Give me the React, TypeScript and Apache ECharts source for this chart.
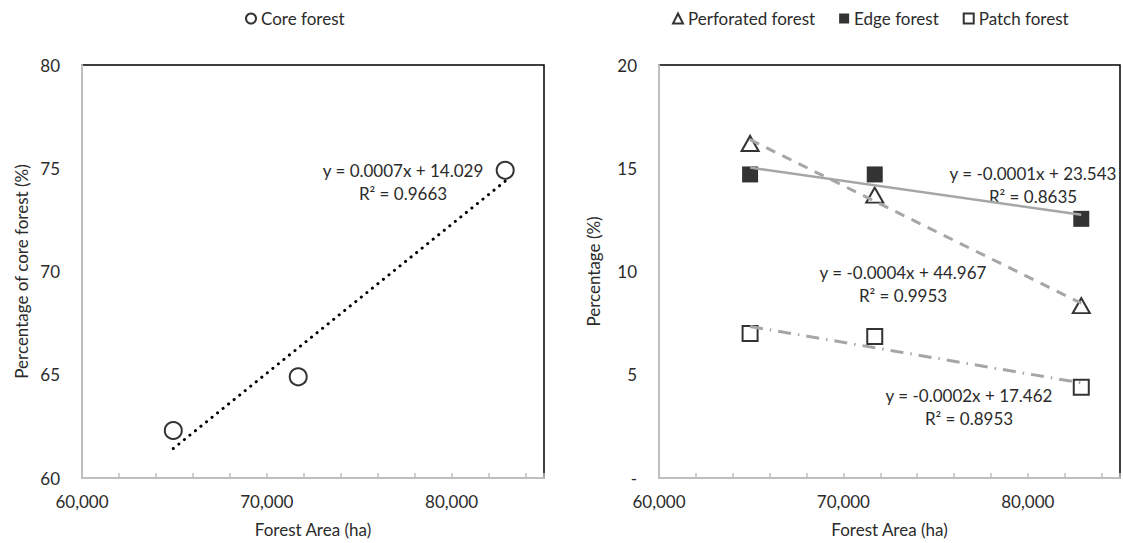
import React, { useEffect, useRef } from 'react';
import * as echarts from 'echarts';

// Forest area (ha) of the three observations
const forestArea = [64940, 71700, 82900];
// Left panel
const coreForest = [62.3, 64.9, 74.9];
// Right panel
const perforatedForest = [16.2, 13.7, 8.35];
const edgeForest = [14.7, 14.7, 12.55];
const patchForest = [7.0, 6.85, 4.4];

const xLabelValues = [60000, 70000, 80000];
const coreEq = ['y = 0.0007x + 14.029', 'R² = 0.9663'];
const edgeEq = ['y = -0.0001x + 23.543', 'R² = 0.8635'];
const perfEq = ['y = -0.0004x + 44.967', 'R² = 0.9953'];
const patchEq = ['y = -0.0002x + 17.462', 'R² = 0.8953'];

const FONT = 'Lato';
const TEXT = '#2b2b2b';
const TREND = '#a6a6a6';
const FS = 17;

function trend(xs: number[], ys: number[]) {
  const n = xs.length;
  const mx = xs.reduce((a, b) => a + b, 0) / n;
  const my = ys.reduce((a, b) => a + b, 0) / n;
  let sxy = 0, sxx = 0;
  for (let i = 0; i < n; i++) {
    sxy += (xs[i] - mx) * (ys[i] - my);
    sxx += (xs[i] - mx) * (xs[i] - mx);
  }
  const a = sxy / sxx;
  const b = my - a * mx;
  const x0 = Math.min(...xs);
  const x1 = Math.max(...xs);
  return [[x0, a * x0 + b], [x1, a * x1 + b]];
}

const pts = (ys: number[]) => forestArea.map((x, i) => [x, ys[i]]);

function xAxis(gridIndex: number) {
  return {
    type: 'value',
    gridIndex,
    min: 60000,
    max: 85000,
    interval: 2000,
    name: 'Forest Area (ha)',
    nameLocation: 'middle',
    nameGap: 43,
    nameTextStyle: { fontFamily: FONT, fontSize: FS, color: TEXT },
    axisLine: { show: true, lineStyle: { color: '#bfbfbf', width: 2 } },
    axisTick: { show: true, inside: true, length: 5, lineStyle: { color: '#bfbfbf', width: 1.5 } },
    axisLabel: {
      interval: 0,
      margin: 15,
      fontFamily: FONT,
      fontSize: FS,
      color: TEXT,
      formatter: (v: number) => (xLabelValues.includes(v) ? v.toLocaleString('en-US') : ''),
    },
    splitLine: { show: false },
  };
}

function yAxis(gridIndex: number, min: number, max: number, name: string, nameGap: number, fmt: (v: number) => string) {
  return {
    type: 'value',
    gridIndex,
    min,
    max,
    interval: 5,
    name,
    nameLocation: 'middle',
    nameGap,
    nameTextStyle: { fontFamily: FONT, fontSize: FS, color: TEXT },
    axisLine: { show: true, lineStyle: { color: '#bfbfbf', width: 2 } },
    axisTick: { show: false },
    axisLabel: { margin: 22, fontFamily: FONT, fontSize: FS, color: TEXT, formatter: fmt },
    splitLine: { show: false },
  };
}

function eqText(lines: string[], cx: number, cy: number) {
  return lines.map((t, i) => ({
    type: 'text',
    x: cx,
    y: cy + i * 23,
    style: {
      text: t,
      fontFamily: FONT,
      fontSize: FS,
      fill: TEXT,
      textAlign: 'center',
      textVerticalAlign: 'middle',
    },
  }));
}

const hollow = { color: '#fff', borderColor: '#000', borderWidth: 2 };

export default function App() {
  const ref = useRef<HTMLDivElement>(null);
  useEffect(() => {
    if (!ref.current) return;
    const chart = echarts.init(ref.current, undefined, { renderer: 'svg' });
    chart.setOption({
      animation: false,
      backgroundColor: '#fff',
      textStyle: { fontFamily: FONT },
      grid: [
        { left: 82, top: 65, width: 462, height: 413.5, show: true, borderColor: '#000', borderWidth: 1.5, backgroundColor: 'transparent' },
        { left: 659, top: 65, width: 462, height: 413.5, show: true, borderColor: '#000', borderWidth: 1.5, backgroundColor: 'transparent' },
      ],
      legend: [
        {
          left: 240,
          top: 5,
          itemWidth: 10,
          itemHeight: 10,
          itemGap: 26,
          textStyle: { fontFamily: FONT, fontSize: FS, color: TEXT },
          data: [{ name: 'Core forest', icon: 'circle', itemStyle: hollow }],
        },
        {
          left: 667,
          top: 5,
          itemWidth: 10,
          itemHeight: 10,
          itemGap: 24,
          textStyle: { fontFamily: FONT, fontSize: FS, color: TEXT },
          data: [
            { name: 'Perforated forest', icon: 'triangle', itemStyle: hollow },
            { name: 'Edge forest', icon: 'rect', itemStyle: { color: '#000', borderWidth: 0 } },
            { name: 'Patch forest', icon: 'rect', itemStyle: hollow },
          ],
        },
      ],
      xAxis: [xAxis(0), xAxis(1)],
      yAxis: [
        yAxis(0, 60, 80, 'Percentage of core forest (%)', 52, (v: number) => String(v)),
        yAxis(1, 0, 20, 'Percentage (%)', 57, (v: number) => (v === 0 ? '-' : String(v))),
      ],
      series: [
        {
          name: 'Core forest', type: 'scatter', xAxisIndex: 0, yAxisIndex: 0,
          symbol: 'circle', symbolSize: 17, itemStyle: hollow, data: pts(coreForest), z: 2,
        },
        {
          name: 'Core trend', type: 'line', xAxisIndex: 0, yAxisIndex: 0, symbol: 'none',
          lineStyle: { color: '#000', width: 3, type: [0.1, 7], cap: 'round' },
          data: trend(forestArea, coreForest), z: 3,
        },
        {
          name: 'Perforated forest', type: 'scatter', xAxisIndex: 1, yAxisIndex: 1,
          symbol: 'triangle', symbolSize: [17, 15], itemStyle: hollow, data: pts(perforatedForest), z: 2,
        },
        {
          name: 'Edge forest', type: 'scatter', xAxisIndex: 1, yAxisIndex: 1,
          symbol: 'rect', symbolSize: 16, itemStyle: { color: '#000' }, data: pts(edgeForest), z: 2,
        },
        {
          name: 'Patch forest', type: 'scatter', xAxisIndex: 1, yAxisIndex: 1,
          symbol: 'rect', symbolSize: 15, itemStyle: hollow, data: pts(patchForest), z: 2,
        },
        {
          name: 'Perforated trend', type: 'line', xAxisIndex: 1, yAxisIndex: 1, symbol: 'none',
          lineStyle: { color: TREND, width: 3, type: [10, 8] },
          data: trend(forestArea, perforatedForest), z: 3,
        },
        {
          name: 'Edge trend', type: 'line', xAxisIndex: 1, yAxisIndex: 1, symbol: 'none',
          lineStyle: { color: TREND, width: 2.5, type: 'solid' },
          data: trend(forestArea, edgeForest), z: 3,
        },
        {
          name: 'Patch trend', type: 'line', xAxisIndex: 1, yAxisIndex: 1, symbol: 'none',
          lineStyle: { color: TREND, width: 3, type: [13, 7, 1.5, 7] },
          data: trend(forestArea, patchForest), z: 3,
        },
      ],
      graphic: [
        ...eqText(coreEq, 403, 170),
        ...eqText(edgeEq, 1033, 173),
        ...eqText(perfEq, 903, 272),
        ...eqText(patchEq, 969, 395),
      ],
    });
    return () => chart.dispose();
  }, []);
  return <div ref={ref} style={{ position: 'absolute', left: 0, top: 0, width: 1123, height: 543 }} />;
}
